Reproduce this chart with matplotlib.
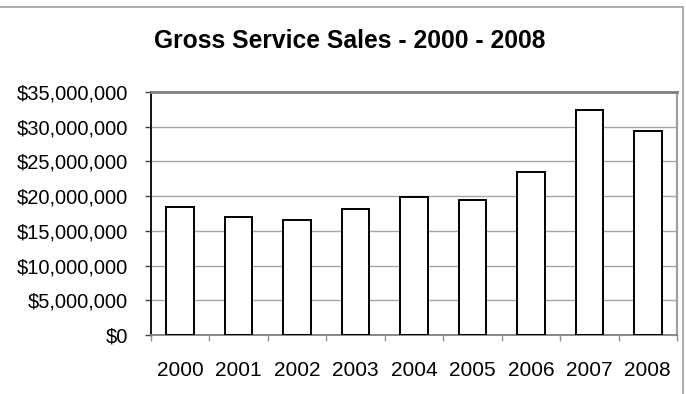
import matplotlib
matplotlib.use("Agg")
import matplotlib.pyplot as plt
from matplotlib.lines import Line2D
from matplotlib.ticker import FuncFormatter, MultipleLocator

plt.rcParams['font.family'] = ['Liberation Sans', 'DejaVu Sans']

years = ['2000', '2001', '2002', '2003', '2004', '2005', '2006', '2007', '2008']
sales = [18.5e6, 17.0e6, 16.6e6, 18.1e6, 19.9e6, 19.5e6, 23.5e6, 32.4e6, 29.4e6]
title = 'Gross Service Sales - 2000 - 2008'

W, H = 686, 394
fig = plt.figure(figsize=(W / 100, H / 100), dpi=100)
ax = fig.add_axes([151 / W, 1 - 335 / H, (677 - 151) / W, (335 - 92) / H])

x = range(len(years))
ax.bar(x, sales, width=0.47, color='white', edgecolor='black', linewidth=1.4, zorder=3)

ax.set_xlim(-0.5, len(years) - 0.5)
ax.set_ylim(0, 35e6)
ax.yaxis.set_major_locator(MultipleLocator(5e6))
ax.yaxis.set_major_formatter(FuncFormatter(lambda v, p: '${:,.0f}'.format(v)))
ax.set_xticks(list(x))
ax.set_xticklabels(years)
ax.set_xticks([i + 0.5 for i in range(-1, len(years))], minor=True)

ax.grid(axis='y', color='#a6a6a6', linewidth=1.0, zorder=0)
ax.tick_params(axis='x', which='major', length=0, pad=19, labelsize=15)
ax.tick_params(axis='x', which='minor', length=4, width=1.0, color='#909090', direction='out')
ax.tick_params(axis='y', length=4.3, width=1.0, color='#404040', pad=12, labelsize=14.5)

ax.spines['left'].set_color('black')
ax.spines['left'].set_linewidth(1.3)
ax.spines['bottom'].set_color('#808080')
ax.spines['bottom'].set_linewidth(1.3)
ax.spines['top'].set_color('#808080')
ax.spines['top'].set_linewidth(2.0)
ax.spines['right'].set_color('#a0a0a0')
ax.spines['right'].set_linewidth(1.6)

fig.text(350 / W, 1 - 41 / H, title, ha='center', va='center',
         fontsize=17.7, fontweight='bold')

# outer chart border (top and right visible)
fig.add_artist(Line2D([0, 683 / W], [1 - 7 / H, 1 - 7 / H], color='#a6a6a6',
                      linewidth=1.3, transform=fig.transFigure))
fig.add_artist(Line2D([683 / W, 683 / W], [1 - 7 / H, 0], color='#a6a6a6',
                      linewidth=1.3, transform=fig.transFigure))

fig.savefig('out.png', dpi=100)
